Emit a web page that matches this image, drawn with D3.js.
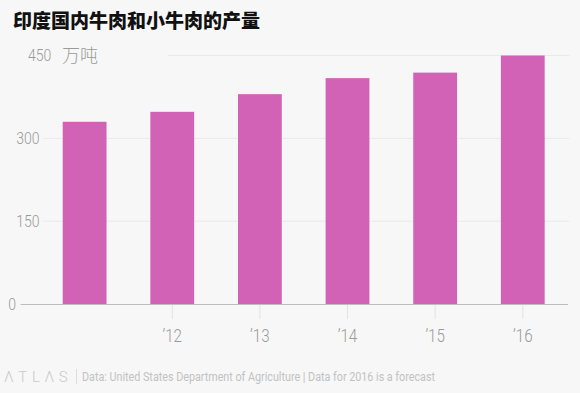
<!DOCTYPE html>
<html>
<head>
<meta charset="utf-8">
<script src="https://cdn.jsdelivr.net/npm/d3@7"></script>
<style>
  body { margin: 0; background: #f7f7f7; }
  svg { display: block; }
</style>
</head>
<body>
<div id="vis"></div>
<script>
const FRAME_WIDTH = 580;
const FRAME_HEIGHT = 393;

// data
const years = ["2011", "2012", "2013", "2014", "2015", "2016"];
const yearLabels = ["", "’12", "’13", "’14", "’15", "’16"];
const production = [330, 348, 380, 409, 419, 450];   // 万吨
const yTicks = [0, 150, 300, 450];

const LIGHT = "'Roboto', sans-serif";

const FRAME = d3.select("#vis")
                .append("svg")
                  .attr("width", FRAME_WIDTH)
                  .attr("height", FRAME_HEIGHT);

FRAME.append("rect")
     .attr("width", FRAME_WIDTH)
     .attr("height", FRAME_HEIGHT)
     .attr("fill", "#f7f7f7");

// scales
const X_SCALE = d3.scaleBand()
                  .domain(years)
                  .range([40.8, 566.6])
                  .paddingInner(0.5)
                  .paddingOuter(0.25);

const Y_SCALE = d3.scaleLinear()
                  .domain([0, 450])
                  .range([304, 55.5]);

// gridlines (the top one leaves room for the unit label)
FRAME.append("g")
     .selectAll("line")
     .data(yTicks.filter((d) => d > 0))
     .enter()
     .append("line")
       .attr("x1", (d) => d === 450 ? 168 : 43)
       .attr("x2", 569)
       .attr("y1", (d) => Y_SCALE(d))
       .attr("y2", (d) => Y_SCALE(d))
       .attr("stroke", "#e9e9e9")
       .attr("stroke-width", 1);

// bars
FRAME.selectAll(".bar")
     .data(production)
     .enter()
     .append("rect")
       .attr("class", "bar")
       .attr("x", (d, i) => X_SCALE(years[i]))
       .attr("width", X_SCALE.bandwidth())
       .attr("y", (d) => Y_SCALE(d))
       .attr("height", (d) => Y_SCALE(0) - Y_SCALE(d))
       .attr("fill", "#d162b6");

// baseline
FRAME.append("line")
     .attr("x1", 20.5)
     .attr("x2", 568)
     .attr("y1", Y_SCALE(0) + 0.5)
     .attr("y2", Y_SCALE(0) + 0.5)
     .attr("stroke", "#bdbdbd")
     .attr("stroke-width", 1.2);

// x axis: ticks and year labels
const xAxis = FRAME.append("g")
     .attr("transform", "translate(0," + (Y_SCALE(0) + 1) + ")")
     .call(d3.axisBottom(X_SCALE)
             .tickValues(years.slice(1))
             .tickSize(14)
             .tickPadding(8)
             .tickFormat((d) => yearLabels[years.indexOf(d)]));

xAxis.select(".domain").remove();
xAxis.selectAll(".tick line").attr("stroke", "#e2e2e2");
xAxis.selectAll(".tick text")
     .attr("fill", "#9a9a9a")
     .attr("font-family", LIGHT)
     .attr("font-weight", 300)
     .attr("font-size", "19px")
     .attr("dy", "0.8em")
     .attr("transform", "scale(0.8,1)");

// y labels (squeezed, the original face is a narrow one)
FRAME.append("g")
     .selectAll("text")
     .data(yTicks)
     .enter()
     .append("text")
       .attr("transform", (d) => "translate(" + (d === 0 ? 16 : (d === 450 ? 28 : 39.5)) + "," + Y_SCALE(d) + ") scale(0.85,1)")
       .attr("dy", "0.36em")
       .attr("text-anchor", (d) => d === 450 ? "start" : "end")
       .attr("fill", "#9a9a9a")
       .attr("font-family", LIGHT)
       .attr("font-weight", 300)
       .attr("font-size", "16.5px")
       .text((d) => d);

// unit next to the top label
FRAME.append("text")
     .attr("x", 62)
     .attr("y", Y_SCALE(450))
     .attr("dy", "0.36em")
     .attr("fill", "#9a9a9a")
     .attr("font-family", "'Noto Sans CJK SC', sans-serif")
     .attr("font-weight", 300)
     .attr("font-size", "18px")
     .text("万吨");

// title
FRAME.append("text")
     .attr("x", 13)
     .attr("y", 28)
     .attr("fill", "#111")
     .attr("font-family", "'Noto Sans CJK SC', sans-serif")
     .attr("font-weight", 900)
     .attr("font-size", "19px")
     .text("印度国内牛肉和小牛肉的产量");

// footer
FRAME.append("text")
     .attr("x", 4)
     .attr("y", 382)
     .attr("fill", "#c9c9c9")
     .attr("font-family", LIGHT)
     .attr("font-weight", 300)
     .attr("font-size", "15px")
     .attr("letter-spacing", "4.6px")
     .text("ΛTLΛS");

FRAME.append("line")
     .attr("x1", 76.5)
     .attr("x2", 76.5)
     .attr("y1", 369)
     .attr("y2", 384)
     .attr("stroke", "#dddddd");

FRAME.append("text")
     .attr("x", 82)
     .attr("y", 381)
     .attr("fill", "#c2c2c2")
     .attr("font-family", LIGHT)
     .attr("font-size", "12px")
     .attr("textLength", 353)
     .attr("lengthAdjust", "spacingAndGlyphs")
     .text("Data: United States Department of Agriculture | Data for 2016 is a forecast");
</script>
</body>
</html>
